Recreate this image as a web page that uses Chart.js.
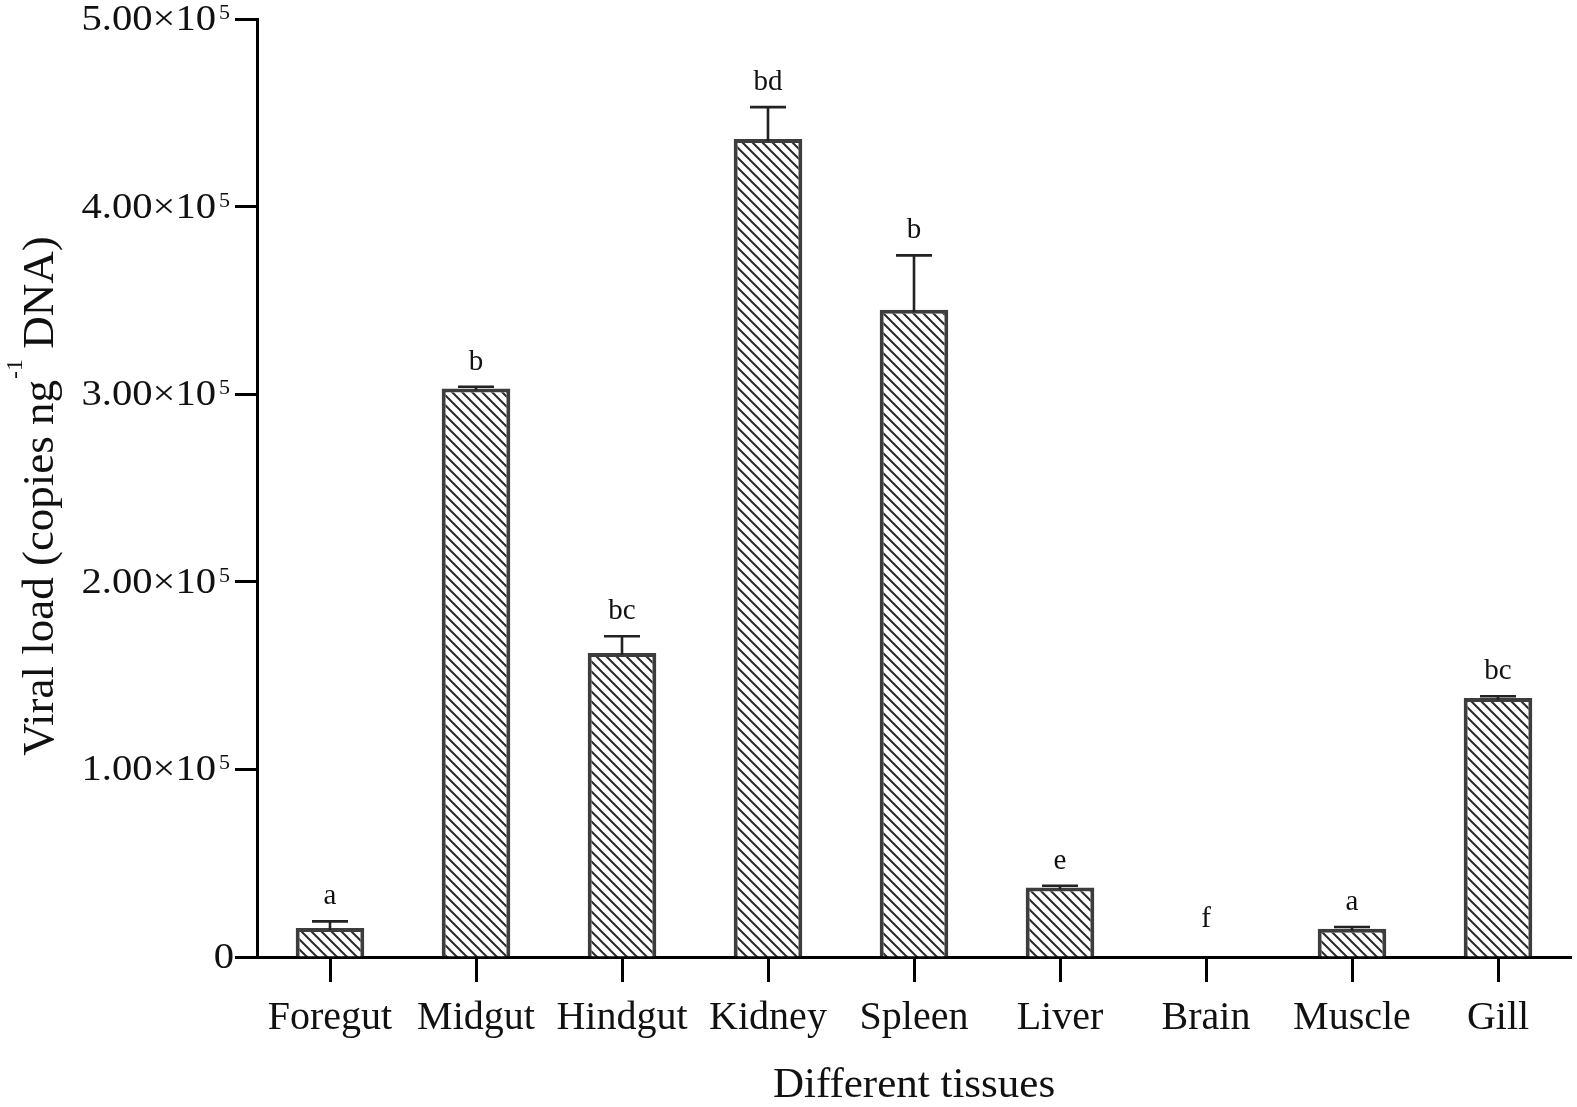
<!DOCTYPE html>
<html>
<head>
<meta charset="utf-8">
<script src="https://cdn.jsdelivr.net/npm/chart.js@4"></script>
<style>
  html, body { margin: 0; padding: 0; background: #fff; }
  #wrap { width: 1577px; height: 1107px; position: relative; }
</style>
</head>
<body>
<div id="wrap"><canvas id="c"></canvas></div>
<script>
// ---- data ----
const categories = ['Foregut', 'Midgut', 'Hindgut', 'Kidney', 'Spleen', 'Liver', 'Brain', 'Muscle', 'Gill'];
const viralLoad  = [15500, 303000, 162000, 436000, 345000, 37000, 0, 15000, 138000];
const errorSEM   = [3500, 1000, 9000, 17000, 29000, 1000, 0, 1000, 1000];
const sigLetters = ['a', 'b', 'bc', 'bd', 'b', 'e', 'f', 'a', 'bc'];
const yTickValues = [0, 100000, 200000, 300000, 400000, 500000];
const yTickMantissa = ['0', '1.00×10', '2.00×10', '3.00×10', '4.00×10', '5.00×10'];
const yTickExponent = ['', '5', '5', '5', '5', '5'];
const yTitleParts = ['Viral load (copies ng', '-1', ' DNA)'];
const xTitle = 'Different tissues';

const SERIF = '"Liberation Serif", "Times New Roman", serif';

function makeHatch() {
  const s = 10;
  const c = document.createElement('canvas');
  c.width = s; c.height = s;
  const g = c.getContext('2d');
  g.fillStyle = '#ffffff';
  g.fillRect(0, 0, s, s);
  g.strokeStyle = '#2a2a2a';
  g.lineWidth = 2;
  g.beginPath();
  g.moveTo(-2, -2); g.lineTo(s + 2, s + 2);
  g.moveTo(-2, s - 2); g.lineTo(2, s + 2);
  g.moveTo(s - 2, -2); g.lineTo(s + 2, 2);
  g.stroke();
  return g.createPattern(c, 'repeat');
}

const overlay = {
  id: 'overlay',
  afterDatasetsDraw(chart) {
    const ctx = chart.ctx;
    const ys = chart.scales.y;
    const meta = chart.getDatasetMeta(0);
    ctx.save();
    // error bars (upper only)
    ctx.strokeStyle = '#222';
    ctx.lineWidth = 2.6;
    meta.data.forEach((bar, i) => {
      if (!errorSEM[i]) return;
      const yTop = ys.getPixelForValue(viralLoad[i] + errorSEM[i]);
      const yBar = ys.getPixelForValue(viralLoad[i]);
      ctx.beginPath();
      ctx.moveTo(bar.x, yBar + 2);
      ctx.lineTo(bar.x, yTop);
      ctx.moveTo(bar.x - 18, yTop);
      ctx.lineTo(bar.x + 18, yTop);
      ctx.stroke();
    });
    // significance letters
    ctx.fillStyle = '#111';
    ctx.font = '29px ' + SERIF;
    ctx.textAlign = 'center';
    ctx.textBaseline = 'alphabetic';
    meta.data.forEach((bar, i) => {
      const top = ys.getPixelForValue(viralLoad[i] + errorSEM[i]);
      const yy = Math.min(top - 17, ys.getPixelForValue(0) - 30);
      ctx.fillText(sigLetters[i], bar.x, yy);
    });
    ctx.restore();
  },
  afterDraw(chart) {
    const ctx = chart.ctx;
    const ys = chart.scales.y;
    const area = chart.chartArea;
    ctx.save();
    ctx.fillStyle = '#111';
    ctx.textBaseline = 'alphabetic';
    // y tick labels with superscript (slightly widened serif, as in the figure)
    const right = area.left - 27;
    const sx = 1.16;
    yTickValues.forEach((v, i) => {
      const py = ys.getPixelForValue(v);
      let x = right;
      ctx.save();
      if (yTickExponent[i]) {
        ctx.font = '22px ' + SERIF;
        const ew = ctx.measureText(yTickExponent[i]).width;
        ctx.save();
        ctx.translate(x - ew, py + 0);
        ctx.textAlign = 'left';
        ctx.fillText(yTickExponent[i], 0, 0);
        ctx.restore();
        x = x - ew - 3;
      } else {
        x = right + 4;
      }
      ctx.translate(x, py + 11);
      ctx.scale(sx, 1);
      ctx.font = '35px ' + SERIF;
      ctx.textAlign = 'right';
      ctx.fillText(yTickMantissa[i], 0, 0);
      ctx.restore();
    });
    // y title with superscript
    const cy = (area.top + area.bottom) / 2 + 8;
    ctx.save();
    ctx.translate(53, cy);
    ctx.rotate(-Math.PI / 2);
    const mainFont = '45px ' + SERIF, supFont = '24px ' + SERIF;
    ctx.font = mainFont; const w0 = ctx.measureText(yTitleParts[0]).width;
    ctx.font = supFont; const w1 = ctx.measureText(yTitleParts[1]).width;
    ctx.font = mainFont; const w2 = ctx.measureText(yTitleParts[2]).width;
    let tx = -(w0 + w1 + w2) / 2;
    ctx.textAlign = 'left';
    ctx.font = mainFont; ctx.fillText(yTitleParts[0], tx, 0); tx += w0;
    ctx.font = supFont; ctx.fillText(yTitleParts[1], tx + 1, -31); tx += w1;
    ctx.font = mainFont; ctx.fillText(yTitleParts[2], tx, 0);
    ctx.restore();
    // x title
    ctx.font = '43px ' + SERIF;
    ctx.textAlign = 'center';
    ctx.fillText(xTitle, (area.left + area.right) / 2, 1097);
    ctx.restore();
  }
};

const ctx = document.getElementById('c').getContext('2d');
new Chart(ctx, {
  type: 'bar',
  data: {
    labels: categories,
    datasets: [{
      data: viralLoad,
      backgroundColor: makeHatch(),
      borderColor: '#3d3d3d',
      borderWidth: 4,
      borderSkipped: 'bottom',
      barPercentage: 0.47,
      categoryPercentage: 1.0
    }]
  },
  options: {
    responsive: true,
    maintainAspectRatio: false,
    animation: false,
    devicePixelRatio: 1,
    layout: { padding: { top: 19, right: 6, left: 0, bottom: 0 } },
    plugins: { legend: { display: false }, tooltip: { enabled: false }, title: { display: false } },
    scales: {
      x: {
        grid: { offset: false, drawOnChartArea: false, drawTicks: true, tickLength: 25, tickWidth: 3, tickColor: '#000', color: '#000' },
        border: { display: true, color: '#000', width: 3 },
        ticks: { color: '#111', font: { family: SERIF, size: 40 }, padding: 12, maxRotation: 0, autoSkip: false },
        afterFit(scale) { scale.height = 150; }
      },
      y: {
        min: 0, max: 500000,
        ticks: { stepSize: 100000, display: false },
        grid: { drawOnChartArea: false, drawTicks: true, tickLength: 22, tickWidth: 3, tickColor: '#000', color: '#000' },
        border: { display: true, color: '#000', width: 3 },
        afterFit(scale) { scale.width = 257; }
      }
    }
  },
  plugins: [overlay]
});
</script>
</body>
</html>
